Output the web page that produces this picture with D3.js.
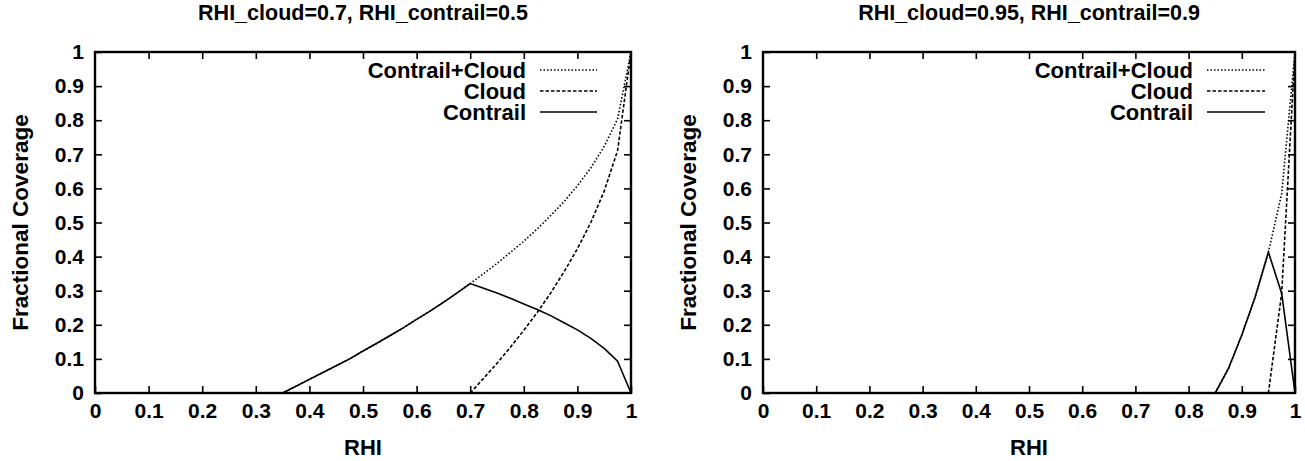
<!DOCTYPE html>
<html>
<head>
<meta charset="utf-8">
<script src="https://cdn.jsdelivr.net/npm/d3@7"></script>
<style>
  html, body { margin: 0; padding: 0; background: #fff; }
  svg { display: block; }
  text { font-family: "Liberation Sans", Arial, Helvetica, sans-serif; font-weight: bold; fill: #000; }
</style>
</head>
<body>
<svg id="chart" width="1305" height="461"></svg>
<script>
// Panel 1: RHI_cloud = 0.7, RHI_contrail = 0.5
const rhiA = [0.35, 0.375, 0.4, 0.425, 0.45, 0.475, 0.5, 0.525, 0.55, 0.575, 0.6, 0.625, 0.65, 0.675,
              0.7, 0.725, 0.75, 0.775, 0.8, 0.825, 0.85, 0.875, 0.9, 0.925, 0.95, 0.975, 1.0];
const totalA = [0, 0.02, 0.04, 0.06, 0.08, 0.10, 0.123, 0.145, 0.168, 0.191, 0.216, 0.24, 0.266, 0.293,
                0.321, 0.35, 0.38, 0.412, 0.445, 0.481, 0.52, 0.561, 0.608, 0.66, 0.723, 0.804, 1.0];
const cloudRhiA = [0.7, 0.725, 0.75, 0.775, 0.8, 0.825, 0.85, 0.875, 0.9, 0.925, 0.95, 0.975, 1.0];
const cloudA = [0, 0.043, 0.087, 0.134, 0.184, 0.236, 0.293, 0.355, 0.423, 0.5, 0.592, 0.711, 1.0];
const contrailA = [0, 0.02, 0.04, 0.06, 0.08, 0.10, 0.123, 0.145, 0.168, 0.191, 0.216, 0.24, 0.266, 0.293,
                   0.321, 0.307, 0.293, 0.278, 0.261, 0.245, 0.227, 0.206, 0.185, 0.16, 0.131, 0.093, 0];

// Panel 2: RHI_cloud = 0.95, RHI_contrail = 0.9
const rhiB = [0.85, 0.875, 0.9, 0.925, 0.95, 0.975, 1.0];
const totalB = [0, 0.072, 0.17, 0.281, 0.413, 0.585, 1.0];
const cloudRhiB = [0.95, 0.975, 1.0];
const cloudB = [0, 0.293, 1.0];
const contrailB = [0, 0.072, 0.17, 0.281, 0.413, 0.292, 0];

const xTicks = [0, 0.1, 0.2, 0.3, 0.4, 0.5, 0.6, 0.7, 0.8, 0.9, 1];
const yTicks = [0, 0.1, 0.2, 0.3, 0.4, 0.5, 0.6, 0.7, 0.8, 0.9, 1];
const legendNames = ["Contrail+Cloud", "Cloud", "Contrail"];
const titles = ["RHI_cloud=0.7, RHI_contrail=0.5", "RHI_cloud=0.95, RHI_contrail=0.9"];

const dashStyles = {
  "Contrail+Cloud": "1.5,2",
  "Cloud": "3.5,2",
  "Contrail": null
};

const panels = [
  {
    title: titles[0], left: 95, right: 631, legendText: 105, legendLine: [91, 34],
    series: [
      { name: "Contrail+Cloud", x: rhiA, y: totalA },
      { name: "Cloud", x: cloudRhiA, y: cloudA },
      { name: "Contrail", x: rhiA, y: contrailA }
    ]
  },
  {
    title: titles[1], left: 763, right: 1295, legendText: 102, legendLine: [88, 30],
    series: [
      { name: "Contrail+Cloud", x: rhiB, y: totalB },
      { name: "Cloud", x: cloudRhiB, y: cloudB },
      { name: "Contrail", x: rhiB, y: contrailB }
    ]
  }
];

const plotTop = 52, plotBottom = 393;
const svg = d3.select("#chart");

panels.forEach(p => {
  const x = d3.scaleLinear().domain([0, 1]).range([p.left, p.right]);
  const y = d3.scaleLinear().domain([0, 1]).range([plotBottom, plotTop]);
  const g = svg.append("g");
  const tickLen = 7;

  // Curves
  p.series.forEach(s => {
    const pts = s.x.map((v, i) => [v, s.y[i]]);
    const line = d3.line().x(d => x(d[0])).y(d => y(d[1]));
    g.append("path")
      .datum(pts)
      .attr("d", line)
      .attr("fill", "none")
      .attr("stroke", "#000")
      .attr("stroke-width", 1.6)
      .attr("stroke-dasharray", dashStyles[s.name]);
  });

  // Axes with inward ticks on all four sides
  const bottomAxis = d3.axisBottom(x).tickValues(xTicks).tickSize(-tickLen).tickPadding(10)
    .tickFormat(d => d3.format("")(d));
  const topAxis = d3.axisTop(x).tickValues(xTicks.slice(1, -1)).tickSize(-tickLen).tickFormat("");
  const leftAxis = d3.axisLeft(y).tickValues(yTicks).tickSize(-tickLen).tickPadding(11)
    .tickFormat(d => d3.format("")(d));
  const rightAxis = d3.axisRight(y).tickValues(yTicks.slice(1, -1)).tickSize(-tickLen).tickFormat("");

  const styleAxis = sel => {
    sel.select(".domain").remove();
    sel.selectAll(".tick line").attr("stroke", "#000").attr("stroke-width", 1.6);
    sel.selectAll(".tick text").attr("font-size", 21).attr("font-family", "Liberation Sans, Arial, sans-serif")
      .attr("font-weight", "bold").attr("fill", "#000");
  };
  g.append("g").attr("transform", `translate(0,${plotBottom})`).call(bottomAxis).call(styleAxis);
  g.append("g").attr("transform", `translate(0,${plotTop})`).call(topAxis).call(styleAxis);
  g.append("g").attr("transform", `translate(${p.left},0)`).call(leftAxis).call(styleAxis);
  g.append("g").attr("transform", `translate(${p.right},0)`).call(rightAxis).call(styleAxis);

  // Frame
  g.append("rect")
    .attr("x", p.left).attr("y", plotTop)
    .attr("width", p.right - p.left).attr("height", plotBottom - plotTop)
    .attr("fill", "none").attr("stroke", "#000").attr("stroke-width", 2.4);

  // Title and axis labels
  g.append("text")
    .attr("x", (p.left + p.right) / 2).attr("y", 20)
    .attr("text-anchor", "middle").attr("font-size", 21.5)
    .text(p.title);
  g.append("text")
    .attr("x", (p.left + p.right) / 2).attr("y", 455)
    .attr("text-anchor", "middle").attr("font-size", 22)
    .text("RHI");
  g.append("text")
    .attr("transform", `translate(${p.left - 67},${(plotTop + plotBottom) / 2}) rotate(-90)`)
    .attr("text-anchor", "middle").attr("font-size", 22.5)
    .text("Fractional Coverage");

  // Legend
  const legend = g.append("g");
  legendNames.forEach((name, i) => {
    const ly = 70 + i * 21;
    legend.append("text")
      .attr("x", p.right - p.legendText).attr("y", ly)
      .attr("dy", "0.35em")
      .attr("text-anchor", "end").attr("font-size", 22)
      .text(name);
    legend.append("line")
      .attr("x1", p.right - p.legendLine[0]).attr("x2", p.right - p.legendLine[1])
      .attr("y1", ly).attr("y2", ly)
      .attr("stroke", "#000").attr("stroke-width", 1.6)
      .attr("stroke-dasharray", dashStyles[name]);
  });
});
</script>
</body>
</html>
